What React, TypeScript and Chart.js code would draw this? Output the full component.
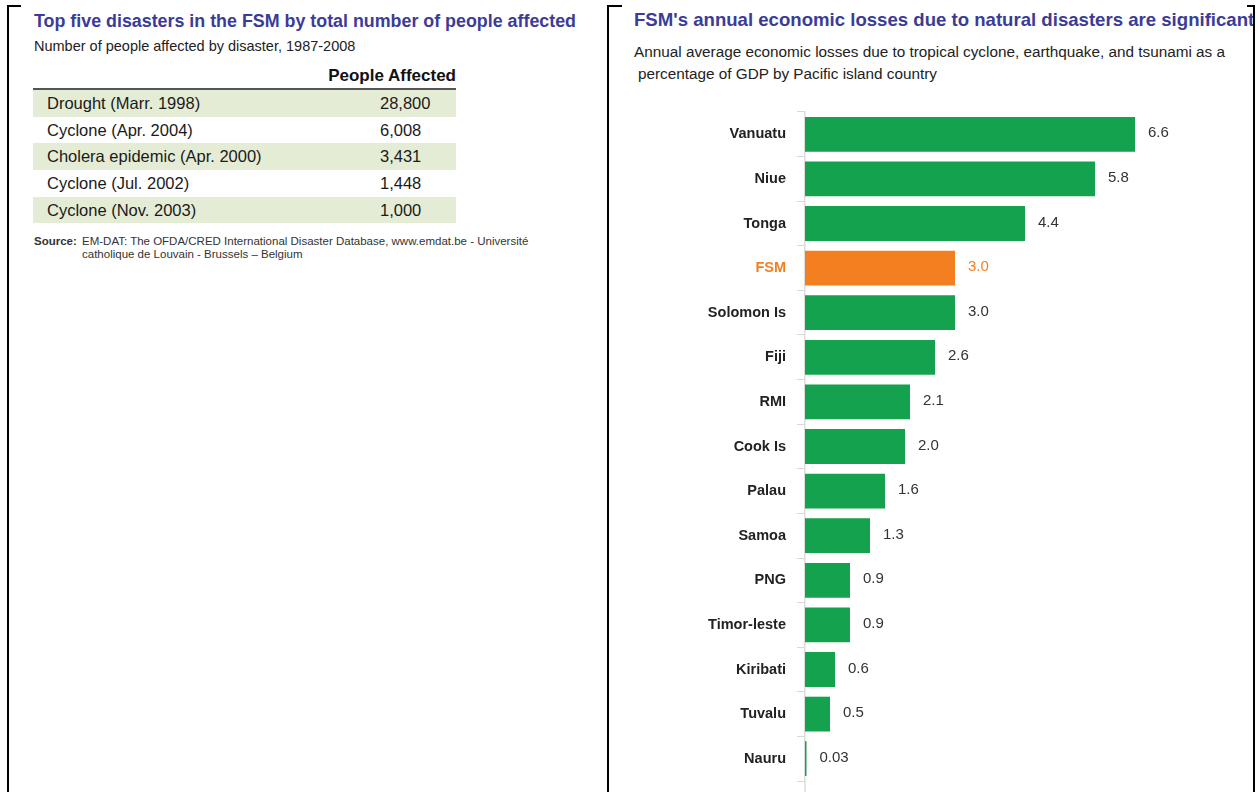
import React, { useEffect, useRef } from "react";
import { Chart, registerables } from "chart.js";

Chart.register(...registerables);

// ---- Left panel data (table) ----
const disasterEvents = [
  "Drought (Marr. 1998)",
  "Cyclone (Apr. 2004)",
  "Cholera epidemic (Apr. 2000)",
  "Cyclone (Jul. 2002)",
  "Cyclone (Nov. 2003)",
];
const peopleAffected = ["28,800", "6,008", "3,431", "1,448", "1,000"];

// ---- Right panel data (bar chart) ----
const countries = [
  "Vanuatu", "Niue", "Tonga", "FSM", "Solomon Is", "Fiji", "RMI", "Cook Is",
  "Palau", "Samoa", "PNG", "Timor-leste", "Kiribati", "Tuvalu", "Nauru",
];
const lossPctGdp = [6.6, 5.8, 4.4, 3.0, 3.0, 2.6, 2.1, 2.0, 1.6, 1.3, 0.9, 0.9, 0.6, 0.5, 0.03];
const valueLabels = ["6.6", "5.8", "4.4", "3.0", "3.0", "2.6", "2.1", "2.0", "1.6", "1.3", "0.9", "0.9", "0.6", "0.5", "0.03"];
const highlightCountry = "FSM";

const GREEN = "#14A24E";
const ORANGE = "#F47F20";
const TITLE_BLUE = "#3B3B98";
const FONT = '"Liberation Sans", Arial, Helvetica, sans-serif';

function BarChart() {
  const ref = useRef<HTMLCanvasElement | null>(null);
  useEffect(() => {
    if (!ref.current) return;
    const valuePlugin = {
      id: "valueLabels",
      afterDatasetsDraw(chart: any) {
        const ctx = chart.ctx;
        const meta = chart.getDatasetMeta(0);
        ctx.save();
        ctx.font = `15px ${FONT}`;
        ctx.textBaseline = "middle";
        ctx.textAlign = "left";
        meta.data.forEach((bar: any, i: number) => {
          ctx.fillStyle = countries[i] === highlightCountry ? ORANGE : "#333";
          ctx.fillText(valueLabels[i], bar.x + 13, bar.y - 1);
        });
        ctx.restore();
      },
      afterDraw(chart: any) {
        const ctx = chart.ctx;
        const a = chart.chartArea;
        ctx.save();
        ctx.strokeStyle = "#dcdcdc";
        ctx.lineWidth = 1.5;
        ctx.beginPath();
        ctx.moveTo(a.left, a.bottom);
        ctx.lineTo(a.left, chart.height);
        ctx.stroke();
        ctx.restore();
      },
    };
    const chart = new Chart(ref.current, {
      type: "bar",
      data: {
        labels: countries,
        datasets: [
          {
            data: lossPctGdp,
            backgroundColor: countries.map((c) => (c === highlightCountry ? ORANGE : GREEN)),
            barPercentage: 0.78,
            categoryPercentage: 1,
          },
        ],
      },
      options: {
        animation: false,
        responsive: false,
        maintainAspectRatio: false,
        indexAxis: "y",
        layout: { padding: { top: 12, bottom: 11, left: 0, right: 0 } },
        plugins: { legend: { display: false }, tooltip: { enabled: false } },
        scales: {
          x: { display: false, min: 0, max: 8.96 },
          y: {
            afterFit: (s: any) => {
              s.width = 197;
              s.paddingTop = 0;
              s.paddingBottom = 0;
            },
            grid: {
              offset: true,
              drawOnChartArea: false,
              drawTicks: true,
              tickLength: 8,
              color: "#d9d9d9",
            },
            border: { display: true, color: "#dcdcdc", width: 1.5 },
            ticks: {
              padding: 11,
              font: { family: FONT, size: 14.5, weight: "bold" },
              color: (c: any) => (countries[c.index] === highlightCountry ? ORANGE : "#222"),
            },
          },
        },
      },
      plugins: [valuePlugin],
    } as any);
    return () => chart.destroy();
  }, []);
  return (
    <canvas
      ref={ref}
      width={645}
      height={692}
      style={{ position: "absolute", left: 0, top: 100, width: 645, height: 692 }}
    />
  );
}

const abs = (s: React.CSSProperties): React.CSSProperties => ({ position: "absolute", ...s });

export default function App() {
  const rowTop = 90;
  const rowH = 26.7;
  return (
    <div
      style={{
        position: "absolute",
        left: 0,
        top: 0,
        width: 1258,
        height: 792,
        overflow: "hidden",
        background: "#fff",
        fontFamily: FONT,
      }}
    >
      {/* table borders */}
      <div style={abs({ left: 7, top: 5, width: 2, height: 800, background: "#000" })} />
      <div style={abs({ left: 607, top: 5, width: 2, height: 800, background: "#000" })} />
      <div style={abs({ left: 1253, top: 5, width: 2, height: 800, background: "#000" })} />
      <div style={abs({ left: 7, top: 5, width: 14, height: 2, background: "#000" })} />
      <div style={abs({ left: 607, top: 5, width: 15, height: 2, background: "#000" })} />
      <div style={abs({ left: 1247, top: 5, width: 8, height: 2, background: "#000" })} />

      {/* Left panel */}
      <div
        style={abs({
          left: 34, top: 11, fontSize: 17.85, lineHeight: "20px", fontWeight: "bold",
          color: TITLE_BLUE, whiteSpace: "nowrap",
        })}
      >
        Top five disasters in the FSM by total number of people affected
      </div>
      <div style={abs({ left: 34, top: 37, fontSize: 14.5, lineHeight: "18px", color: "#222", whiteSpace: "nowrap" })}>
        Number of people affected by disaster, 1987-2008
      </div>
      <div
        style={abs({
          left: 300, width: 156, textAlign: "right", top: 66, fontSize: 17, lineHeight: "20px",
          fontWeight: "bold", color: "#111", whiteSpace: "nowrap",
        })}
      >
        People Affected
      </div>
      <div style={abs({ left: 33, top: 88, width: 423, height: 2, background: "#555" })} />
      {disasterEvents.map((ev, i) => (
        <div
          key={ev + i}
          style={abs({
            left: 33, top: rowTop + i * rowH, width: 423, height: rowH,
            background: i % 2 === 0 ? "#E5ECD5" : "transparent",
          })}
        >
          <div style={abs({ left: 14, top: 0, lineHeight: `${rowH}px`, fontSize: 16.5, color: "#1a1a1a", whiteSpace: "nowrap" })}>
            {ev}
          </div>
          <div style={abs({ left: 347, top: 0, lineHeight: `${rowH}px`, fontSize: 16.5, color: "#1a1a1a", whiteSpace: "nowrap" })}>
            {peopleAffected[i]}
          </div>
        </div>
      ))}
      <div style={abs({ left: 34, top: 235, fontSize: 11.5, lineHeight: "13px", fontWeight: "bold", color: "#333" })}>
        Source:
      </div>
      <div style={abs({ left: 82, top: 235, fontSize: 11.5, lineHeight: "13px", color: "#333", whiteSpace: "nowrap" })}>
        EM-DAT: The OFDA/CRED International Disaster Database, www.emdat.be - Université
        <br />
        catholique de Louvain - Brussels – Belgium
      </div>

      {/* Right panel */}
      <div style={abs({ left: 609, top: 0, width: 644, height: 792, overflow: "hidden" })}>
        <div
          style={abs({
            left: 25, top: 9, fontSize: 18.6, lineHeight: "22px", fontWeight: "bold",
            color: TITLE_BLUE, whiteSpace: "nowrap",
          })}
        >
          FSM's annual economic losses due to natural disasters are significant
        </div>
        <div style={abs({ left: 25, top: 43, fontSize: 15.3, lineHeight: "18px", color: "#222", whiteSpace: "nowrap" })}>
          Annual average economic losses due to tropical cyclone, earthquake, and tsunami as a
        </div>
        <div style={abs({ left: 29, top: 65, fontSize: 15.3, lineHeight: "18px", color: "#222", whiteSpace: "nowrap" })}>
          percentage of GDP by Pacific island country
        </div>
        <div style={abs({ left: -1, top: 0, width: 645, height: 792 })}>
          <BarChart />
        </div>
      </div>
    </div>
  );
}
